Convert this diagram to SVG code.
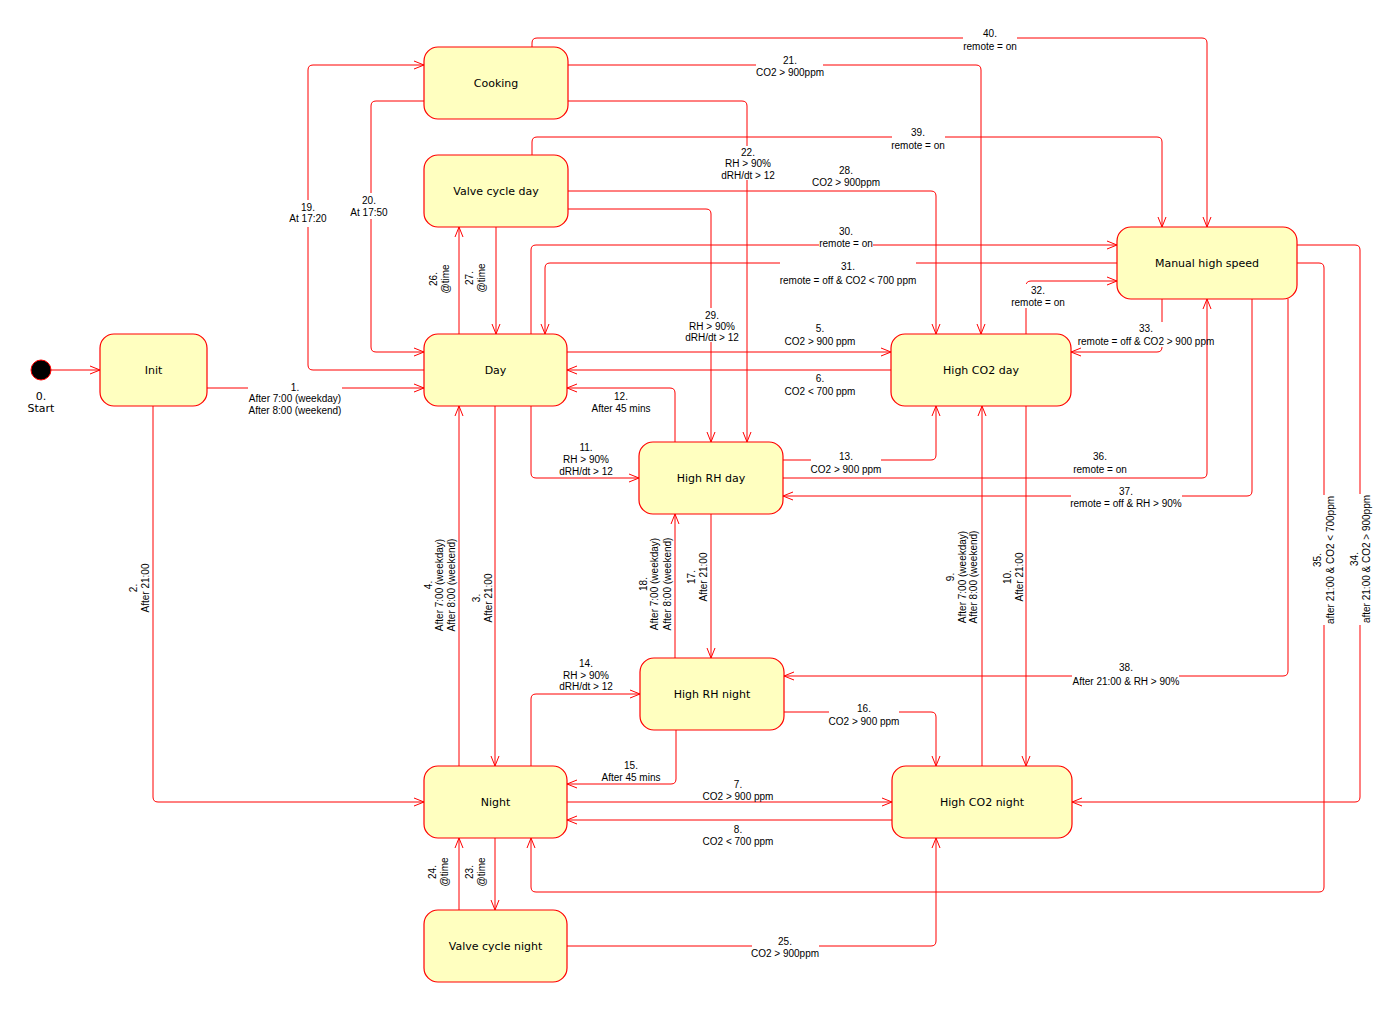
<svg xmlns="http://www.w3.org/2000/svg" width="1400" height="1010" viewBox="0 0 1400 1010">
<style>
.node rect{fill:#FFFFC0;stroke:#FF0000;stroke-width:1.2}
.node text{font-family:"DejaVu Sans",sans-serif;font-size:11px;text-anchor:middle;fill:#000}
.c{fill:none;stroke:#FF0000;stroke-width:1;marker-end:url(#arr)}
.l text{font-family:"Liberation Sans",Arial,sans-serif;font-size:10px;text-anchor:middle;fill:#000}
.bg{fill:#FFFFFF;stroke:none}
</style>
<defs>
<marker id="arr" viewBox="0 0 12 10" markerWidth="12" markerHeight="10" refX="11" refY="5" orient="auto" markerUnits="userSpaceOnUse">
<path d="M1,1 L11,5 L1,9" fill="none" stroke="#FF0000" stroke-width="1"/>
</marker>
</defs>
<rect width="1400" height="1010" fill="#FFFFFF"/>
<g id="connectors">
<path class="c" d="M51,370 H100"/>
<path class="c" d="M207,388 H424"/>
<path class="c" d="M153,406 V797 Q153,802 158,802 H424"/>
<path class="c" d="M495,406 V766"/>
<path class="c" d="M459,766 V406"/>
<path class="c" d="M567,352 H891"/>
<path class="c" d="M891,370 H567"/>
<path class="c" d="M567,802 H892"/>
<path class="c" d="M892,820 H567"/>
<path class="c" d="M982,766 V406"/>
<path class="c" d="M1026,406 V766"/>
<path class="c" d="M531,406 V473 Q531,478 536,478 H639"/>
<path class="c" d="M675,442 V393 Q675,388 670,388 H567"/>
<path class="c" d="M783,460 H931 Q936,460 936,455 V406"/>
<path class="c" d="M531,766 V699 Q531,694 536,694 H640"/>
<path class="c" d="M676,730 V779 Q676,784 671,784 H567"/>
<path class="c" d="M784,712 H931 Q936,712 936,717 V766"/>
<path class="c" d="M711,514 V658"/>
<path class="c" d="M675,658 V514"/>
<path class="c" d="M424,370 H313 Q308,370 308,365 V70 Q308,65 313,65 H424"/>
<path class="c" d="M424,101 H376 Q371,101 371,106 V347 Q371,352 376,352 H424"/>
<path class="c" d="M568,65 H976 Q981,65 981,70 V334"/>
<path class="c" d="M568,101 H742 Q747,101 747,106 V442"/>
<path class="c" d="M495,838 V910"/>
<path class="c" d="M459,910 V838"/>
<path class="c" d="M567,946 H931 Q936,946 936,941 V838"/>
<path class="c" d="M459,334 V227"/>
<path class="c" d="M496,227 V334"/>
<path class="c" d="M568,191 H931 Q936,191 936,196 V334"/>
<path class="c" d="M568,209 H706 Q711,209 711,214 V442"/>
<path class="c" d="M531,334 V250 Q531,245 536,245 H1117"/>
<path class="c" d="M1117,263 H550 Q545,263 545,268 V334"/>
<path class="c" d="M1026,334 V286 Q1026,281 1031,281 H1117"/>
<path class="c" d="M1162,299 V347 Q1162,352 1157,352 H1071"/>
<path class="c" d="M1297,245 H1355 Q1360,245 1360,250 V797 Q1360,802 1355,802 H1072"/>
<path class="c" d="M1297,263 H1319 Q1324,263 1324,268 V887 Q1324,892 1319,892 H536 Q531,892 531,887 V838"/>
<path class="c" d="M783,478 H1202 Q1207,478 1207,473 V299"/>
<path class="c" d="M1252,299 V491 Q1252,496 1247,496 H783"/>
<path class="c" d="M1288,299 V671 Q1288,676 1283,676 H784"/>
<path class="c" d="M532,155 V142 Q532,137 537,137 H1157 Q1162,137 1162,142 V227"/>
<path class="c" d="M532,47 V43 Q532,38 537,38 H1202 Q1207,38 1207,43 V227"/>

<g class="l">
<rect class="bg" x="248" y="381" width="94" height="34"/>
<text x="295" y="390.5">1.</text><text x="295" y="401.5">After 7:00 (weekday)</text><text x="295" y="413.5">After 8:00 (weekend)</text>

<g transform="translate(133,588) rotate(-90)"><text x="0" y="3.5">2.</text><text x="0" y="15.5">After 21:00</text></g>
<g transform="translate(476,598) rotate(-90)"><text x="0" y="3.5">3.</text><text x="0" y="15.5">After 21:00</text></g>
<g transform="translate(428,585) rotate(-90)"><text x="0" y="3.5">4.</text><text x="0" y="14.5">After 7:00 (weekday)</text><text x="0" y="26.5">After 8:00 (weekend)</text></g>

<text x="820" y="331.5">5.</text><text x="820" y="344.5">CO2 &gt; 900 ppm</text>
<text x="820" y="381.5">6.</text><text x="820" y="394.5">CO2 &lt; 700 ppm</text>
<text x="738" y="787.5">7.</text><text x="738" y="799.5">CO2 &gt; 900 ppm</text>
<text x="738" y="832.5">8.</text><text x="738" y="844.5">CO2 &lt; 700 ppm</text>

<g transform="translate(950,577) rotate(-90)"><text x="0" y="3.5">9.</text><text x="0" y="15.5">After 7:00 (weekday)</text><text x="0" y="26.5">After 8:00 (weekend)</text></g>
<g transform="translate(1007,577) rotate(-90)"><text x="0" y="3.5">10.</text><text x="0" y="15.5">After 21:00</text></g>

<text x="586" y="450.5">11.</text><text x="586" y="462.5">RH &gt; 90%</text><text x="586" y="474.5">dRH/dt &gt; 12</text>
<text x="621" y="399.5">12.</text><text x="621" y="411.5">After 45 mins</text>

<rect class="bg" x="811" y="450" width="70" height="24"/>
<text x="846" y="459.5">13.</text><text x="846" y="472.5">CO2 &gt; 900 ppm</text>

<text x="586" y="666.5">14.</text><text x="586" y="678.5">RH &gt; 90%</text><text x="586" y="689.5">dRH/dt &gt; 12</text>
<text x="631" y="768.5">15.</text><text x="631" y="780.5">After 45 mins</text>

<rect class="bg" x="829" y="702" width="70" height="24"/>
<text x="864" y="711.5">16.</text><text x="864" y="724.5">CO2 &gt; 900 ppm</text>

<g transform="translate(691,577) rotate(-90)"><text x="0" y="3.5">17.</text><text x="0" y="15.5">After 21:00</text></g>
<g transform="translate(643,584) rotate(-90)"><text x="0" y="3.5">18.</text><text x="0" y="14.5">After 7:00 (weekday)</text><text x="0" y="27.5">After 8:00 (weekend)</text></g>

<rect class="bg" x="288" y="200" width="40" height="27"/>
<text x="308" y="210.5">19.</text><text x="308" y="221.5">At 17:20</text>
<rect class="bg" x="349" y="193" width="42" height="26"/>
<text x="369" y="203.5">20.</text><text x="369" y="215.5">At 17:50</text>

<rect class="bg" x="756" y="53" width="67" height="24"/>
<text x="790" y="63.5">21.</text><text x="790" y="75.5">CO2 &gt; 900ppm</text>

<rect class="bg" x="720" y="146" width="56" height="34"/>
<text x="748" y="155.5">22.</text><text x="748" y="166.5">RH &gt; 90%</text><text x="748" y="178.5">dRH/dt &gt; 12</text>

<g transform="translate(469,872) rotate(-90)"><text x="0" y="3.5">23.</text><text x="0" y="15.5">@time</text></g>
<g transform="translate(432,872) rotate(-90)"><text x="0" y="3.5">24.</text><text x="0" y="15.5">@time</text></g>

<rect class="bg" x="752" y="935" width="67" height="23"/>
<text x="785" y="944.5">25.</text><text x="785" y="956.5">CO2 &gt; 900ppm</text>

<g transform="translate(433,279) rotate(-90)"><text x="0" y="3.5">26.</text><text x="0" y="15.5">@time</text></g>
<g transform="translate(469,278) rotate(-90)"><text x="0" y="3.5">27.</text><text x="0" y="15.5">@time</text></g>

<text x="846" y="173.5">28.</text><text x="846" y="185.5">CO2 &gt; 900ppm</text>

<rect class="bg" x="684" y="308" width="56" height="34"/>
<text x="712" y="318.5">29.</text><text x="712" y="329.5">RH &gt; 90%</text><text x="712" y="340.5">dRH/dt &gt; 12</text>

<rect class="bg" x="819" y="224" width="54" height="23"/>
<text x="846" y="234.5">30.</text><text x="846" y="246.5">remote = on</text>

<rect class="bg" x="780" y="258" width="136" height="27"/>
<text x="848" y="269.5">31.</text><text x="848" y="283.5">remote = off &amp; CO2 &lt; 700 ppm</text>

<rect class="bg" x="1011" y="284" width="54" height="24"/>
<text x="1038" y="293.5">32.</text><text x="1038" y="305.5">remote = on</text>

<rect class="bg" x="1152" y="322" width="20" height="25"/>
<text x="1146" y="331.5">33.</text><text x="1146" y="344.5">remote = off &amp; CO2 &gt; 900 ppm</text>

<rect class="bg" x="1347" y="494" width="26" height="131"/>
<g transform="translate(1354,559) rotate(-90)"><text x="0" y="3.5">34.</text><text x="0" y="15.5">after 21:00 &amp; CO2 &gt; 900ppm</text></g>
<rect class="bg" x="1310" y="495" width="27" height="130"/>
<g transform="translate(1317,560) rotate(-90)"><text x="0" y="3.5">35.</text><text x="0" y="16.5">after 21:00 &amp; CO2 &lt; 700ppm</text></g>

<text x="1100" y="459.5">36.</text><text x="1100" y="472.5">remote = on</text>

<rect class="bg" x="1071" y="485" width="111" height="23"/>
<text x="1126" y="494.5">37.</text><text x="1126" y="506.5">remote = off &amp; RH &gt; 90%</text>

<rect class="bg" x="1072" y="661" width="107" height="25"/>
<text x="1126" y="670.5">38.</text><text x="1126" y="684.5">After 21:00 &amp; RH &gt; 90%</text>

<rect class="bg" x="892" y="126" width="53" height="24"/>
<text x="918" y="135.5">39.</text><text x="918" y="148.5">remote = on</text>

<rect class="bg" x="963" y="27" width="54" height="24"/>
<text x="990" y="36.5">40.</text><text x="990" y="49.5">remote = on</text>
</g>
</g>

<g id="start" class="node">
<circle cx="41" cy="370" r="10" fill="#000000" stroke="#FF0000" stroke-width="1"/>
<text x="41" y="400">0.</text><text x="41" y="412">Start</text>
</g>
<g id="init" class="node"><rect x="100" y="334" width="107" height="72" rx="14"/><text x="153.5" y="374">Init</text></g>
<g id="day" class="node"><rect x="424" y="334" width="143" height="72" rx="14"/><text x="495.5" y="374">Day</text></g>
<g id="cooking" class="node"><rect x="424" y="47" width="144" height="72" rx="14"/><text x="496" y="87">Cooking</text></g>
<g id="valve-cycle-day" class="node"><rect x="424" y="155" width="144" height="72" rx="14"/><text x="496" y="195">Valve cycle day</text></g>
<g id="high-rh-day" class="node"><rect x="639" y="442" width="144" height="72" rx="14"/><text x="711" y="482">High RH day</text></g>
<g id="high-rh-night" class="node"><rect x="640" y="658" width="144" height="72" rx="14"/><text x="712" y="698">High RH night</text></g>
<g id="night" class="node"><rect x="424" y="766" width="143" height="72" rx="14"/><text x="495.5" y="806">Night</text></g>
<g id="valve-cycle-night" class="node"><rect x="424" y="910" width="143" height="72" rx="14"/><text x="495.5" y="950">Valve cycle night</text></g>
<g id="high-co2-day" class="node"><rect x="891" y="334" width="180" height="72" rx="14"/><text x="981" y="374">High CO2 day</text></g>
<g id="high-co2-night" class="node"><rect x="892" y="766" width="180" height="72" rx="14"/><text x="982" y="806">High CO2 night</text></g>
<g id="manual-high-speed" class="node"><rect x="1117" y="227" width="180" height="72" rx="14"/><text x="1207" y="267">Manual high speed</text></g>
</svg>
